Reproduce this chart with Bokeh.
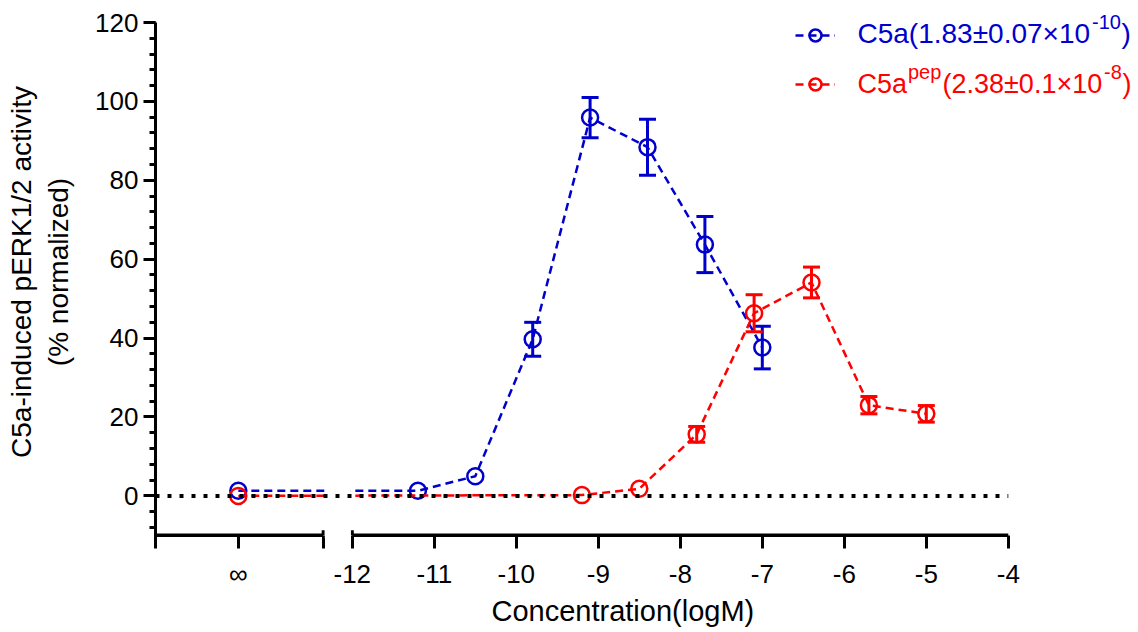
from bokeh.plotting import figure
from bokeh.models import (Range1d, FixedTicker, SingleIntervalTicker, Whisker, TeeHead,
                          ColumnDataSource, BoxAnnotation, Label, Legend, LegendItem, Title)
from bokeh.embed import file_html
from bokeh.resources import INLINE

# ---------------- data ----------------
INF_POS = -13.39           # plotting position of the "∞" (no agonist) category
inf_label = "∞"

c5a_x = [INF_POS, -11.2, -10.5, -9.8, -9.1, -8.4, -7.7, -7.0]
c5a_y = [1.3, 1.3, 5.0, 39.7, 95.9, 88.4, 63.7, 37.6]
c5a_err = [0.0, 0.0, 0.0, 4.3, 5.1, 7.1, 7.1, 5.4]

pep_x = [INF_POS, -9.2, -8.5, -7.8, -7.1, -6.4, -5.7, -5.0]
pep_y = [0.0, 0.2, 1.8, 15.6, 46.3, 54.1, 23.0, 20.8]
pep_err = [0.0, 0.0, 0.0, 2.0, 4.7, 3.9, 2.2, 2.1]

x_ticks = [-12, -11, -10, -9, -8, -7, -6, -5, -4]
x_tick_labels = ["-12", "-11", "-10", "-9", "-8", "-7", "-6", "-5", "-4"]

# legend texts: (text, font px, x px, baseline px)
c5a_legend = [("C5a(1.83±0.07×10", 28, 857, 39.5), ("-10", 20, 1091.5, 28), (")", 28, 1121, 39.5)]
pep_legend = [("C5a", 27, 857, 90), ("pep", 20, 907.5, 78), ("(2.38±0.1×10", 27, 942, 90),
              ("-8", 20, 1103.5, 78), (")", 27, 1122, 90)]

# ---------------- layout constants ----------------
BLUE = "#0000CC"
RED = "#FF0000"
FONT = "Liberation Sans"
TOP_PAD = 17                   # room above the y=120 tick (for the legend superscripts)
FRAME_L, FRAME_T, FW, FH = 155, 22 - TOP_PAD, 981, 516 + TOP_PAD
XS = 82.0                      # px per log unit
YS = 516 / 130.8               # px per % unit
X0 = -14.40
X1 = X0 + FW / XS
Y0 = -10.8
Y1 = 120.0 + TOP_PAD / YS
AX_Y = -10.0                   # where the x axis line sits
GAP_L, GAP_R = -12.355, -12.0  # axis break
LABEL_SHIFT = 7                # label box offset compensation (px)


def dx(px):
    return X0 + (px - FRAME_L) / XS


def dy(py):
    return Y1 - (py - FRAME_T) / YS


p = figure(frame_width=FW, frame_height=FH, min_border_left=FRAME_L, min_border_top=FRAME_T,
           min_border_right=1138 - FRAME_L - FW, min_border_bottom=632 - FRAME_T - FH,
           x_range=Range1d(X0, X1), y_range=Range1d(Y0, Y1),
           output_backend="svg", toolbar_location=None)
p.xgrid.visible = False
p.ygrid.visible = False
p.outline_line_color = None
p.background_fill_color = "white"
p.border_fill_color = "white"

# ---------- y axis ----------
ya = p.yaxis[0]
ya.ticker = SingleIntervalTicker(interval=20, num_minor_ticks=5)
ya.bounds = (Y0, 120)
ya.axis_line_width = 3
ya.major_tick_line_width = 3
ya.minor_tick_line_width = 3
ya.major_tick_out = 12
ya.major_tick_in = 0
ya.minor_tick_out = 6
ya.minor_tick_in = 0
ya.major_label_text_font = FONT
ya.major_label_text_font_size = "26px"
ya.major_label_text_color = "black"
ya.major_label_standoff = 5
ya.axis_label = "C5a-induced pERK1/2 activity\n(% normalized)"
ya.axis_label_text_font = FONT
ya.axis_label_text_font_size = "28px"
ya.axis_label_text_font_style = "normal"
ya.axis_label_text_color = "black"
ya.axis_label_standoff = 18

# ---------- x axis (broken) ----------
xa = p.xaxis[0]
all_ticks = [X0, INF_POS, GAP_L] + x_ticks
overrides = {X0: "", INF_POS: inf_label, GAP_L: ""}
for t, lab in zip(x_ticks, x_tick_labels):
    overrides[t] = lab
xa.ticker = FixedTicker(ticks=all_ticks, minor_ticks=[])
xa.major_label_overrides = overrides
xa.axis_line_color = None
xa.major_tick_line_width = 3
xa.major_tick_out = 10
xa.major_tick_in = 3
xa.major_label_text_font = FONT
xa.major_label_text_font_size = "26px"
xa.major_label_text_color = "black"
xa.major_label_standoff = 10

# x axis title, placed under the axis (offset from the frame's left edge)
p.add_layout(Title(text="Concentration(logM)", align="left", offset=336,
                   text_font=FONT, text_font_size="29px", text_font_style="normal",
                   text_color="black", standoff=3), "below")

# axis line segments (left and right of the break) and break marks
p.segment(x0=[X0, GAP_R], x1=[GAP_L, x_ticks[-1]], y0=[AX_Y, AX_Y], y1=[AX_Y, AX_Y],
          line_color="black", line_width=3.5)
p.segment(x0=[GAP_L, GAP_R], x1=[GAP_L, GAP_R], y0=[AX_Y, AX_Y], y1=[AX_Y + 5 / YS] * 2,
          line_color="black", line_width=3)

# ---------- data series ----------
r_bl = p.line(c5a_x, c5a_y, line_color=BLUE, line_width=2.5, line_dash="8 5")
r_bs = p.scatter(c5a_x, c5a_y, marker="circle", size=16, fill_color=None,
                 line_color=BLUE, line_width=2.5)
r_rl = p.line(pep_x, pep_y, line_color=RED, line_width=2.5, line_dash="8 5")
r_rs = p.scatter(pep_x, pep_y, marker="circle", size=16, fill_color=None,
                 line_color=RED, line_width=2.5)


def add_err(xs, ys, es, color):
    rows = [(x, y, e) for x, y, e in zip(xs, ys, es) if e > 0]
    src = ColumnDataSource(dict(x=[r[0] for r in rows],
                                upper=[r[1] + r[2] for r in rows],
                                lower=[r[1] - r[2] for r in rows]))
    w = Whisker(base="x", upper="upper", lower="lower", source=src,
                line_color=color, line_width=3,
                upper_head=TeeHead(size=17, line_color=color, line_width=3),
                lower_head=TeeHead(size=17, line_color=color, line_width=3))
    p.add_layout(w)


add_err(c5a_x, c5a_y, c5a_err, BLUE)
add_err(pep_x, pep_y, pep_err, RED)

# gap in the plotted lines across the axis break
p.add_layout(BoxAnnotation(left=GAP_L + 0.02, right=GAP_R - 0.02, fill_color="white",
                           fill_alpha=1.0, line_alpha=0.0))

# dotted zero line (drawn above the break mask)
z = p.line([X0, x_ticks[-1]], [0, 0], line_color="black", line_width=4, line_dash="4 8")
z.level = "overlay"

# ---------- legends (swatches from Bokeh legends, texts as labels) ----------
def make_legend(renderers, ybottom):
    lg = Legend(items=[LegendItem(label=" ", renderers=renderers)],
                location=(795 - FRAME_L, ybottom), orientation="vertical",
                glyph_width=40, glyph_height=30, label_standoff=0, label_width=1,
                padding=0, margin=0, spacing=0, border_line_color=None,
                background_fill_alpha=0.0,
                label_text_font=FONT, label_text_font_size="28px")
    p.add_layout(lg, "center")


make_legend([r_bl, r_bs], FRAME_T + FH - 50)
make_legend([r_rl, r_rs], FRAME_T + FH - 99)

for pieces, color in ((c5a_legend, BLUE), (pep_legend, RED)):
    for text, size, xpx, base in pieces:
        p.add_layout(Label(x=dx(xpx), y=dy(base - LABEL_SHIFT), text=text, text_color=color,
                           text_font=FONT, text_font_size=f"{size}px",
                           text_baseline="alphabetic", text_align="left"))

open("out.html", "w").write(file_html(p, INLINE))
